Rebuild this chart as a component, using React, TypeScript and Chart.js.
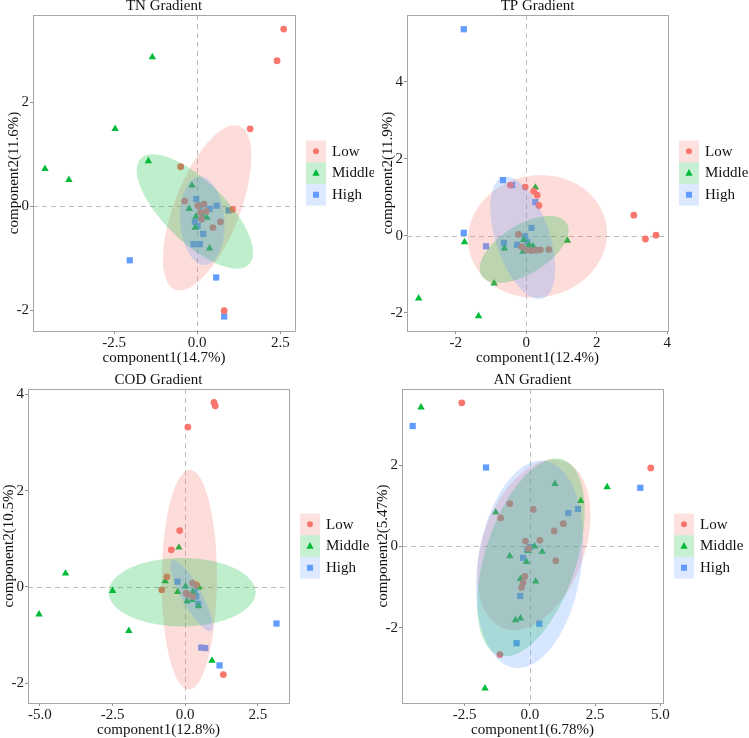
import React, { useEffect, useRef } from 'react';
import { Chart, registerables } from 'chart.js';

Chart.register(...registerables);

// ---- groups ----
const GROUPS = ['Low', 'Middle', 'High'];
const COLORS = ['#F8766D', '#00BA38', '#619CFF'];
const SHAPES = ['circle', 'triangle', 'rect'];
const POINT_RADII = [3.4, 4.3, 4.4];

// ---- TN gradient: [component1, component2] ----
const tnLow = [[2.60, 3.41], [2.40, 2.80], [1.59, 1.49], [-0.50, 0.76], [-0.38, 0.10], [0.20, 0.04], [0.02, 0.01], [0.27, -0.10], [0.10, -0.12], [0.13, -0.25], [0.70, -0.30], [0.47, -0.41], [1.06, -0.06], [0.81, -2.01]];
const tnMiddle = [[-1.35, 2.87], [-2.47, 1.49], [-4.58, 0.72], [-3.86, 0.51], [-1.47, 0.87], [-0.16, 0.40], [-0.24, -0.05], [-0.04, -0.20], [0.16, -0.19], [0.29, -0.22], [-0.06, -0.41], [0.37, -0.81]];
const tnHigh = [[-2.03, -1.04], [0.57, -1.37], [0.81, -2.12], [-0.03, 0.14], [0.08, 0.01], [0.37, -0.05], [0.58, 0.01], [0.94, -0.08], [-0.07, -0.30], [0.01, -0.38], [0.18, -0.53], [-0.11, -0.73], [0.08, -0.73]];
// ellipse per group: [centre x, centre y, half-width x, half-height y, correlation]
const tnEllipses = [[0.30, -0.03, 1.33, 1.59, 0.62], [-0.07, -0.10, 1.75, 1.10, -0.72], [0.15, -0.28, 0.67, 0.85, -0.1]];
const tnXTicks = [-2.5, 0, 2.5];
const tnXTickLabels = ['-2.5', '0.0', '2.5'];
const tnYTicks = [-2, 0, 2];
const tnYTickLabels = ['-2', '0', '2'];

// ---- TP gradient ----
const tpLow = [[-0.45, 1.32], [-0.03, 1.27], [0.21, 1.16], [0.31, 1.06], [0.36, 0.79], [3.05, 0.54], [3.38, -0.08], [3.68, 0.02], [-0.22, 0.04], [-0.13, -0.28], [0.0, -0.36], [0.14, -0.38], [0.28, -0.37], [0.40, -0.36], [0.64, -0.35]];
const tpMiddle = [[0.26, 1.26], [1.17, -0.12], [-1.75, -0.16], [-0.62, -0.32], [-0.91, -1.23], [-3.05, -1.62], [-1.35, -2.08], [-0.07, -0.10], [0.08, -0.23], [0.19, -0.26], [0.02, -0.32], [-0.09, -0.41]];
const tpHigh = [[-1.77, 5.37], [-0.66, 1.45], [-0.40, 1.32], [0.26, 0.88], [0.15, 0.21], [-1.77, 0.08], [-1.14, -0.27], [-0.63, -0.18], [-0.26, -0.23], [-0.04, -0.01], [0.03, -0.15]];
const tpEllipses = [[0.32, -0.01, 1.97, 1.59, 0.05], [-0.06, -0.35, 1.26, 0.87, 0.57], [-0.10, -0.05, 0.92, 1.59, -0.5]];
const tpXTicks = [-2, 0, 2, 4];
const tpXTickLabels = ['-2', '0', '2', '4'];
const tpYTicks = [-2, 0, 2, 4];
const tpYTickLabels = ['-2', '0', '2', '4'];

// ---- COD gradient ----
const codLow = [[0.99, 3.83], [1.03, 3.76], [0.09, 3.32], [-0.19, 1.17], [-0.48, 0.77], [-0.63, 0.21], [-0.81, -0.06], [0.25, 0.08], [0.38, 0.04], [0.03, -0.13], [0.12, -0.17], [0.26, -0.20], [1.31, -1.82]];
const codMiddle = [[-4.12, 0.28], [-5.03, -0.57], [-2.50, -0.08], [-1.94, -0.91], [-0.22, 0.82], [-0.69, 0.12], [-0.26, -0.10], [0.01, 0.01], [0.47, -0.01], [0.26, -0.10], [0.06, -0.30], [0.24, -0.27], [0.46, -0.40], [0.92, -1.53]];
const codHigh = [[-0.27, 0.11], [0.32, -0.11], [0.45, -0.35], [0.55, -1.26], [0.69, -1.27], [1.18, -1.63], [3.14, -0.76], [0.38, -0.20]];
const codEllipses = [[0.14, 0.15, 0.95, 2.28, 0.02], [-0.11, -0.11, 2.53, 0.71, 0], [0.22, -0.18, 0.73, 0.74, -0.85]];
const codXTicks = [-5, -2.5, 0, 2.5];
const codXTickLabels = ['-5.0', '-2.5', '0.0', '2.5'];
const codYTicks = [-2, 0, 2, 4];
const codYTickLabels = ['-2', '0', '2', '4'];

// ---- AN gradient ----
const anLow = [[-2.61, 3.53], [4.63, 1.93], [-0.77, 1.05], [-1.12, 0.70], [0.13, 0.91], [1.28, 0.56], [0.93, 0.38], [-0.17, 0.13], [0.38, 0.15], [0.99, -0.35], [-0.19, -0.74], [-0.26, -0.89], [-0.32, -1.01], [-1.15, -2.66], [-0.05, -0.05]];
const anMiddle = [[-4.17, 3.42], [2.96, 1.46], [0.96, 1.54], [1.95, 1.12], [-1.31, 0.84], [-0.77, -0.24], [-0.13, -0.38], [0.18, 0.0], [0.47, -0.13], [-0.06, -0.11], [-0.36, -0.80], [0.22, -0.86], [-0.55, -1.81], [-0.36, -1.77], [-1.72, -3.49]];
const anHigh = [[-4.49, 2.96], [-1.68, 1.94], [4.23, 1.44], [1.84, 0.92], [1.47, 0.82], [-0.26, -0.28], [0.0, -0.02], [-0.37, -1.22], [0.36, -1.90], [-0.51, -2.38], [-0.10, -0.08]];
const anEllipses = [[0.15, 0.04, 2.17, 2.10, 0.35], [0.04, -0.27, 2.06, 2.43, 0.47], [-0.01, -0.44, 2.05, 2.55, 0.22]];
const anXTicks = [-2.5, 0, 2.5, 5];
const anXTickLabels = ['-2.5', '0.0', '2.5', '5.0'];
const anYTicks = [-2, 0, 2];
const anYTickLabels = ['-2', '0', '2'];

const FONT = '"Liberation Serif", "Times New Roman", serif';
const FILL_ALPHA = 0.25;

function rgba(hex: string, a: number) {
  const n = parseInt(hex.slice(1), 16);
  return `rgba(${(n >> 16) & 255},${(n >> 8) & 255},${n & 255},${a})`;
}

type PanelDef = {
  title: string;
  xLabel: string;
  yLabel: string;
  series: number[][][];
  ellipses: number[][];
  xRange: [number, number];
  yRange: [number, number];
  xTicks: number[];
  xTickLabels: string[];
  yTicks: number[];
  yTickLabels: string[];
  box: { left: number; top: number; width: number; height: number };
  yAxisW: number;
  xAxisH: number;
  padTop: number;
  padRight: number;
};

const PANELS: PanelDef[] = [
  {
    title: 'TN Gradient', xLabel: 'component1(14.7%)', yLabel: 'component2(11.6%)',
    series: [tnLow, tnMiddle, tnHigh], ellipses: tnEllipses,
    xRange: [-4.94, 2.94], yRange: [-2.40, 3.68],
    xTicks: tnXTicks, xTickLabels: tnXTickLabels, yTicks: tnYTicks, yTickLabels: tnYTickLabels,
    box: { left: 0, top: 0, width: 374, height: 369 }, yAxisW: 33, xAxisH: 38, padTop: 15, padRight: 79,
  },
  {
    title: 'TP Gradient', xLabel: 'component1(12.4%)', yLabel: 'component2(11.9%)',
    series: [tpLow, tpMiddle, tpHigh], ellipses: tpEllipses,
    xRange: [-3.38, 4.02], yRange: [-2.47, 5.74],
    xTicks: tpXTicks, xTickLabels: tpXTickLabels, yTicks: tpYTicks, yTickLabels: tpYTickLabels,
    box: { left: 374, top: 0, width: 375, height: 369 }, yAxisW: 33, xAxisH: 38, padTop: 15, padRight: 81,
  },
  {
    title: 'COD Gradient', xLabel: 'component1(12.8%)', yLabel: 'component2(10.5%)',
    series: [codLow, codMiddle, codHigh], ellipses: codEllipses,
    xRange: [-5.41, 3.57], yRange: [-2.41, 4.11],
    xTicks: codXTicks, xTickLabels: codXTickLabels, yTicks: codYTicks, yTickLabels: codYTickLabels,
    box: { left: 0, top: 369, width: 374, height: 369 }, yAxisW: 28, xAxisH: 35, padTop: 20, padRight: 85,
  },
  {
    title: 'AN Gradient', xLabel: 'component1(6.78%)', yLabel: 'component2(5.47%)',
    series: [anLow, anMiddle, anHigh], ellipses: anEllipses,
    xRange: [-4.90, 5.10], yRange: [-3.85, 3.87],
    xTicks: anXTicks, xTickLabels: anXTickLabels, yTicks: anYTicks, yTickLabels: anYTickLabels,
    box: { left: 374, top: 369, width: 375, height: 369 }, yAxisW: 28, xAxisH: 35, padTop: 20, padRight: 86,
  },
];

function drawMarker(ctx: CanvasRenderingContext2D, kind: number, x: number, y: number) {
  ctx.beginPath();
  if (kind === 0) {
    ctx.arc(x, y, 3, 0, Math.PI * 2);
  } else if (kind === 1) {
    ctx.moveTo(x, y - 4);
    ctx.lineTo(x + 3.6, y + 2.6);
    ctx.lineTo(x - 3.6, y + 2.6);
    ctx.closePath();
  } else {
    ctx.rect(x - 3, y - 3, 6, 6);
  }
  ctx.fill();
}

function makeDecor(p: PanelDef) {
  return {
    id: 'decor',
    beforeDatasetsDraw(chart: any) {
      const { ctx, chartArea: a, scales } = chart;
      ctx.save();
      ctx.strokeStyle = '#BDBDBD';
      ctx.lineWidth = 1;
      ctx.setLineDash([5, 4]);
      const px = Math.round(scales.x.getPixelForValue(0)) + 0.5;
      const py = Math.round(scales.y.getPixelForValue(0)) + 0.5;
      ctx.beginPath();
      ctx.moveTo(px, a.top);
      ctx.lineTo(px, a.bottom);
      ctx.moveTo(a.left, py);
      ctx.lineTo(a.right, py);
      ctx.stroke();
      ctx.restore();
    },
    afterDatasetsDraw(chart: any) {
      const { ctx, chartArea: a, scales } = chart;
      ctx.save();
      ctx.beginPath();
      ctx.rect(a.left, a.top, a.right - a.left, a.bottom - a.top);
      ctx.clip();
      p.ellipses.forEach((e, i) => {
        const [cx, cy, rx, ry, rho] = e;
        const s = Math.sqrt(1 - rho * rho);
        ctx.beginPath();
        for (let k = 0; k <= 200; k++) {
          const t = (k / 200) * Math.PI * 2;
          const dx = cx + rx * Math.cos(t);
          const dy = cy + ry * (rho * Math.cos(t) + s * Math.sin(t));
          const X = scales.x.getPixelForValue(dx);
          const Y = scales.y.getPixelForValue(dy);
          if (k === 0) ctx.moveTo(X, Y);
          else ctx.lineTo(X, Y);
        }
        ctx.closePath();
        ctx.fillStyle = rgba(COLORS[i], FILL_ALPHA);
        ctx.fill();
      });
      ctx.restore();
    },
    afterDraw(chart: any) {
      const { ctx, chartArea: a } = chart;
      ctx.save();
      // panel frame
      ctx.strokeStyle = '#A6A6A6';
      ctx.lineWidth = 1;
      ctx.strokeRect(Math.round(a.left) + 0.5, Math.round(a.top) + 0.5, Math.round(a.right - a.left), Math.round(a.bottom - a.top));

      ctx.fillStyle = '#111';
      ctx.font = `15px ${FONT}`;
      ctx.textBaseline = 'middle';
      ctx.textAlign = 'center';
      const midX = (a.left + a.right) / 2;
      const midY = (a.top + a.bottom) / 2;
      ctx.fillText(p.title, midX, a.top - 9);
      ctx.fillText(p.xLabel, midX, a.bottom + 27);
      ctx.save();
      ctx.translate(a.left - 19, midY);
      ctx.rotate(-Math.PI / 2);
      ctx.fillText(p.yLabel, 0, 0);
      ctx.restore();

      // legend
      const lx = a.right + 11;
      const rh = 21.7;
      const ly0 = midY - 32.5;
      GROUPS.forEach((g, i) => {
        const y = ly0 + i * rh;
        ctx.fillStyle = rgba(COLORS[i], 0.22);
        ctx.fillRect(lx, y, 20, rh);
        ctx.fillStyle = COLORS[i];
        drawMarker(ctx, i, lx + 10, y + rh / 2);
        ctx.fillStyle = '#111';
        ctx.textAlign = 'left';
        ctx.font = `15px ${FONT}`;
        ctx.fillText(g, lx + 26, y + rh / 2 + 0.5);
      });
      ctx.restore();
    },
  };
}

function Panel({ p }: { p: PanelDef }) {
  const ref = useRef<HTMLCanvasElement | null>(null);
  useEffect(() => {
    if (!ref.current) return;
    const tickFont = { family: FONT, size: 15 };
    const chart = new Chart(ref.current, {
      type: 'scatter',
      data: {
        datasets: p.series.map((pts, i) => ({
          label: GROUPS[i],
          data: pts.map(([x, y]) => ({ x, y })),
          pointStyle: SHAPES[i] as any,
          pointRadius: POINT_RADII[i],
          pointHoverRadius: POINT_RADII[i],
          backgroundColor: COLORS[i],
          borderColor: COLORS[i],
          borderWidth: 0,
        })),
      },
      options: {
        responsive: false,
        animation: false,
        devicePixelRatio: 1,
        events: [],
        layout: { padding: { top: p.padTop, right: p.padRight, left: 0, bottom: 0 } },
        plugins: { legend: { display: false }, tooltip: { enabled: false }, title: { display: false } },
        scales: {
          x: {
            type: 'linear',
            min: p.xRange[0],
            max: p.xRange[1],
            afterBuildTicks: (s: any) => { s.ticks = p.xTicks.map((v) => ({ value: v })); },
            afterFit: (s: any) => { s.height = p.xAxisH; },
            ticks: {
              callback: (_v: any, i: number) => p.xTickLabels[i],
              font: tickFont,
              color: '#1a1a1a',
              padding: 0,
              maxRotation: 0,
              autoSkip: false,
            },
            grid: { display: true, drawOnChartArea: false, drawTicks: true, tickLength: 3, color: '#8f8f8f' },
            border: { display: false },
          },
          y: {
            type: 'linear',
            min: p.yRange[0],
            max: p.yRange[1],
            afterBuildTicks: (s: any) => { s.ticks = p.yTicks.map((v) => ({ value: v })); },
            afterFit: (s: any) => { s.width = p.yAxisW; },
            ticks: {
              callback: (_v: any, i: number) => p.yTickLabels[i],
              font: tickFont,
              color: '#1a1a1a',
              padding: 1,
              autoSkip: false,
            },
            grid: { display: true, drawOnChartArea: false, drawTicks: true, tickLength: 3, color: '#8f8f8f' },
            border: { display: false },
          },
        },
      },
      plugins: [makeDecor(p)],
    } as any);
    return () => chart.destroy();
  }, [p]);
  return (
    <canvas
      ref={ref}
      width={p.box.width}
      height={p.box.height}
      style={{ position: 'absolute', left: p.box.left, top: p.box.top, width: p.box.width, height: p.box.height, display: 'block' }}
    />
  );
}

export default function App() {
  return (
    <div style={{ position: 'fixed', left: 0, top: 0, width: 749, height: 738, background: '#ffffff', overflow: 'hidden' }}>
      {PANELS.map((p) => (
        <Panel key={p.title} p={p} />
      ))}
    </div>
  );
}
